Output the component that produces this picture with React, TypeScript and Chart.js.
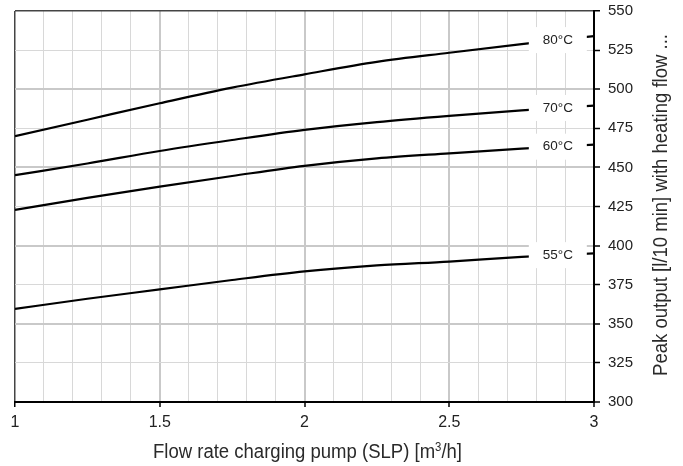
import React, { useEffect, useRef } from 'react';
import { Chart, registerables } from 'chart.js';
Chart.register(...registerables);

const xValues = [1, 1.25, 1.5, 1.75, 2, 2.25, 2.5, 2.75, 3];
const series80 = [470, 480.5, 491, 501, 509.5, 517.5, 523.3, 528.8, 534];
const series70 = [445, 452.5, 460.5, 467.5, 474, 479, 483, 486.5, 489.5];
const series60 = [422.8, 430.5, 437.7, 444.5, 451, 455.8, 459, 462, 464.5];
const series55 = [359.5, 366, 372, 378, 383.5, 387.3, 389.8, 392.8, 395];
const seriesLabels = ['80°C', '70°C', '60°C', '55°C'];
const xTickLabels = ['1', '1.5', '2', '2.5', '3'];
const xTitleMain = 'Flow rate charging pump (SLP) [m';
const xTitleSup = '3';
const xTitleEnd = '/h]';
const yTitle = 'Peak output [l/10 min] with heating flow ...';
const labelAtX = 2.875;

const FONT = "'Liberation Sans', Arial, sans-serif";

function isMajorX(v: number) {
  return Math.abs(v * 2 - Math.round(v * 2)) < 1e-6;
}

function interp(xs: number[], ys: number[], x: number) {
  for (let i = 0; i < xs.length - 1; i++) {
    if (x >= xs[i] && x <= xs[i + 1]) {
      const t = (x - xs[i]) / (xs[i + 1] - xs[i]);
      return ys[i] + t * (ys[i + 1] - ys[i]);
    }
  }
  return ys[ys.length - 1];
}

const labelPlugin = {
  id: 'curveLabels',
  afterDatasetsDraw(chart: any) {
    const ctx = chart.ctx;
    const xs = chart.scales.x;
    const ys = chart.scales.y;
    const all = [series80, series70, series60, series55];
    const cx = xs.getPixelForValue(labelAtX);
    ctx.save();
    all.forEach((s, i) => {
      const v = interp(xValues, s, labelAtX);
      const cy = ys.getPixelForValue(v);
      ctx.fillStyle = '#ffffff';
      ctx.fillRect(cx - 29, cy - 13, 58, 26);
      ctx.fillStyle = '#222';
      ctx.font = `13.5px ${FONT}`;
      ctx.textAlign = 'center';
      ctx.textBaseline = 'middle';
      ctx.fillText(seriesLabels[i], cx, cy);
    });
    ctx.restore();
  },
  afterDraw(chart: any) {
    const ctx = chart.ctx;
    const a = chart.chartArea;
    const sx = 0.95;
    ctx.save();
    ctx.fillStyle = '#2a2a2a';
    ctx.textBaseline = 'alphabetic';
    ctx.textAlign = 'left';
    const mainFont = `19.5px ${FONT}`;
    const supFont = `12px ${FONT}`;
    ctx.font = mainFont;
    const w1 = ctx.measureText(xTitleMain).width;
    const w3 = ctx.measureText(xTitleEnd).width;
    ctx.font = supFont;
    const w2 = ctx.measureText(xTitleSup).width;
    const total = (w1 + w2 + w3) * sx;
    const cx = (a.left + a.right) / 2 + 3;
    ctx.save();
    ctx.translate(cx - total / 2, 458);
    ctx.scale(sx, 1);
    ctx.font = mainFont;
    ctx.fillText(xTitleMain, 0, 0);
    ctx.font = supFont;
    ctx.fillText(xTitleSup, w1, -7);
    ctx.font = mainFont;
    ctx.fillText(xTitleEnd, w1 + w2, 0);
    ctx.restore();
    ctx.save();
    ctx.translate(667, 205);
    ctx.rotate(-Math.PI / 2);
    ctx.scale(sx, 1);
    ctx.font = mainFont;
    ctx.textAlign = 'center';
    ctx.fillText(yTitle, 0, 0);
    ctx.restore();
    ctx.restore();
  },
};

export default function App() {
  const ref = useRef<HTMLCanvasElement>(null);
  useEffect(() => {
    document.body.style.margin = '0';
    const mk = (data: number[], label: string) => ({
      label,
      data: xValues.map((x, i) => ({ x, y: data[i] })),
      borderColor: '#000',
      borderWidth: 2.2,
      pointRadius: 0,
      fill: false,
      cubicInterpolationMode: 'monotone' as const,
    });
    const chart = new Chart(ref.current!, {
      type: 'line',
      data: {
        datasets: [
          mk(series80, seriesLabels[0]),
          mk(series70, seriesLabels[1]),
          mk(series60, seriesLabels[2]),
          mk(series55, seriesLabels[3]),
        ],
      },
      options: {
        animation: false,
        responsive: false,
        layout: { padding: { left: 15, top: 11, right: 0, bottom: 0 } },
        plugins: { legend: { display: false }, tooltip: { enabled: false } },
        scales: {
          x: {
            type: 'linear',
            min: 1,
            max: 3,
            afterFit(scale: any) {
              scale.height = 64;
              scale.paddingLeft = 0;
              scale.paddingRight = 0;
            },
            afterBuildTicks(scale: any) {
              const t = [];
              for (let i = 0; i <= 20; i++) t.push({ value: Math.round((1 + i * 0.1) * 10) / 10 });
              scale.ticks = t;
            },
            ticks: {
              autoSkip: false,
              maxRotation: 0,
              padding: 6,
              color: '#222',
              font: { family: FONT, size: 16 },
              callback(v: any) {
                const n = Number(v);
                if (!isMajorX(n)) return '';
                const idx = Math.round((n - 1) * 2);
                return xTickLabels[idx];
              },
            },
            grid: {
              color(c: any) {
                const v = c.tick ? c.tick.value : 0;
                if (Math.abs(v - 1) < 1e-6) return '#444';
                return isMajorX(v) ? '#c9c9c9' : '#d8d8d8';
              },
              lineWidth(c: any) {
                const v = c.tick ? c.tick.value : 0;
                if (Math.abs(v - 1) < 1e-6) return 1.5;
                return isMajorX(v) ? 2 : 1;
              },
              tickColor(c: any) {
                const v = c.tick ? c.tick.value : 0;
                return isMajorX(v) ? '#000' : 'rgba(0,0,0,0)';
              },
              tickWidth: 1.5,
              tickLength: 5,
            },
            border: { color: '#000', width: 2 },
          },
          y: {
            type: 'linear',
            position: 'right',
            min: 300,
            max: 550,
            afterFit(scale: any) {
              scale.width = 89;
              scale.paddingTop = 0;
              scale.paddingBottom = 0;
            },
            ticks: {
              stepSize: 25,
              padding: 8,
              color: '#222',
              font: { family: FONT, size: 15 },
            },
            grid: {
              color(c: any) {
                const v = c.tick ? c.tick.value : 0;
                if (v === 550) return '#444';
                return v % 50 === 0 ? '#c9c9c9' : '#d8d8d8';
              },
              lineWidth(c: any) {
                const v = c.tick ? c.tick.value : 0;
                if (v === 550) return 1.5;
                return v % 50 === 0 ? 2 : 1;
              },
              tickColor: '#000',
              tickWidth: 1.5,
              tickLength: 6,
            },
            border: { color: '#000', width: 2 },
          },
        },
      },
      plugins: [labelPlugin],
    });
    return () => chart.destroy();
  }, []);
  return (
    <div style={{ width: 683, height: 466 }}>
      <canvas ref={ref} width={683} height={466} style={{ display: 'block' }} />
    </div>
  );
}
